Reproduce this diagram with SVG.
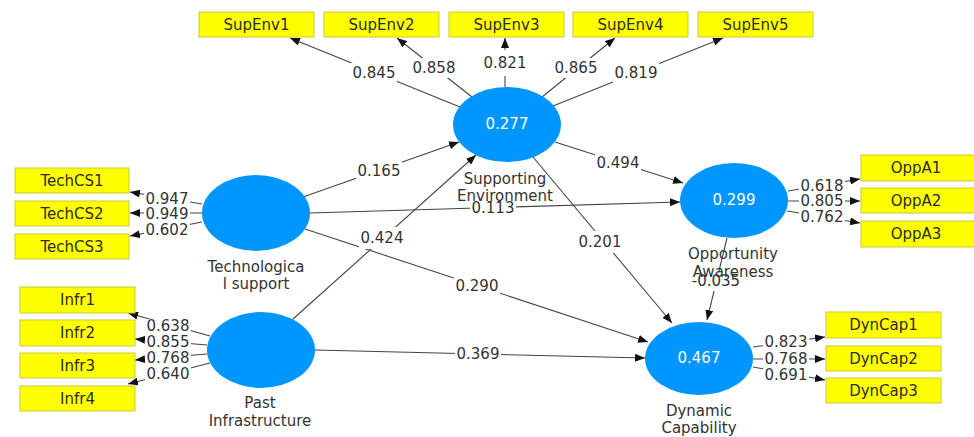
<svg xmlns="http://www.w3.org/2000/svg" width="974" height="437" viewBox="0 0 974 437">
<style>
.bg{fill:#ffffff}
.box{fill:#ffff00;stroke:#c9c93a;stroke-width:1}
.lv{fill:#0096ff}
.bt{font-family:"DejaVu Sans",sans-serif;font-size:15px;fill:#2b2b2b;text-anchor:middle;dominant-baseline:central}
.vt{font-family:"DejaVu Sans",sans-serif;font-size:15px;fill:#ffffff;text-anchor:middle;dominant-baseline:central}
.nl{font-family:"DejaVu Sans",sans-serif;font-size:15px;fill:#333333;text-anchor:middle}
.el{font-family:"DejaVu Sans",sans-serif;font-size:15px;fill:#333333;text-anchor:middle;dominant-baseline:central}
.lb{fill:#ffffff}
.c{stroke:#444444;stroke-width:1.1;fill:none;marker-end:url(#ah)}
</style>
<defs>
<marker id="ah" markerUnits="userSpaceOnUse" viewBox="0 0 10 8" refX="10" refY="4" markerWidth="10" markerHeight="8" orient="auto">
<path d="M0,0 L10,4 L0,8 z" fill="#111111"/>
</marker>
</defs>
<rect class="bg" x="0" y="0" width="974" height="437"/>
<g id="connectors">
<line class="c" x1="460" y1="107" x2="290" y2="38"/>
<line class="c" x1="472" y1="97" x2="397" y2="38"/>
<line class="c" x1="505" y1="87" x2="505" y2="38"/>
<line class="c" x1="542" y1="97" x2="615" y2="38"/>
<line class="c" x1="553" y1="106" x2="723" y2="38"/>
<line class="c" x1="202" y1="204" x2="130" y2="192"/>
<line class="c" x1="202" y1="213" x2="130" y2="213"/>
<line class="c" x1="202" y1="222" x2="130" y2="236"/>
<line class="c" x1="210" y1="336" x2="128" y2="313"/>
<line class="c" x1="207" y1="345" x2="135" y2="339"/>
<line class="c" x1="207" y1="354" x2="135" y2="360"/>
<line class="c" x1="210" y1="363" x2="128" y2="384"/>
<line class="c" x1="788" y1="191" x2="860" y2="179"/>
<line class="c" x1="788" y1="201" x2="860" y2="201"/>
<line class="c" x1="787" y1="211" x2="860" y2="223"/>
<line class="c" x1="753" y1="347" x2="825" y2="337"/>
<line class="c" x1="753" y1="359" x2="825" y2="359"/>
<line class="c" x1="753" y1="367" x2="825" y2="380"/>
<line class="c" x1="303" y1="197" x2="459" y2="142"/>
<line class="c" x1="310" y1="213" x2="680" y2="202"/>
<line class="c" x1="305" y1="229" x2="648" y2="342"/>
<line class="c" x1="293" y1="319" x2="476" y2="155"/>
<line class="c" x1="315" y1="350" x2="645" y2="358"/>
<line class="c" x1="555" y1="142" x2="683" y2="183"/>
<line class="c" x1="533" y1="157" x2="672" y2="323"/>
<line class="c" x1="727" y1="238" x2="707" y2="320"/>
<g id="label-backgrounds">
<rect class="lb" x="351" y="63" width="46" height="20"/>
<rect class="lb" x="411" y="58" width="46" height="20"/>
<rect class="lb" x="482" y="50" width="46" height="26"/>
<rect class="lb" x="553" y="58" width="46" height="20"/>
<rect class="lb" x="613" y="63" width="46" height="20"/>
<rect class="lb" x="144" y="192" width="46" height="14"/>
<rect class="lb" x="144" y="207" width="46" height="14"/>
<rect class="lb" x="144" y="223" width="46" height="14"/>
<rect class="lb" x="145" y="319" width="46" height="14"/>
<rect class="lb" x="145" y="335" width="46" height="14"/>
<rect class="lb" x="145" y="351" width="46" height="14"/>
<rect class="lb" x="145" y="367" width="46" height="14"/>
<rect class="lb" x="799" y="179" width="46" height="14"/>
<rect class="lb" x="799" y="194" width="46" height="14"/>
<rect class="lb" x="799" y="210" width="46" height="14"/>
<rect class="lb" x="763" y="335" width="46" height="14"/>
<rect class="lb" x="763" y="352" width="46" height="14"/>
<rect class="lb" x="763" y="368" width="46" height="14"/>
<rect class="lb" x="356" y="161" width="46" height="20"/>
<rect class="lb" x="470" y="200" width="46" height="16"/>
<rect class="lb" x="454" y="276" width="46" height="20"/>
<rect class="lb" x="359" y="227" width="46" height="22"/>
<rect class="lb" x="455" y="345" width="46" height="18"/>
<rect class="lb" x="595" y="153" width="46" height="20"/>
<rect class="lb" x="577" y="231" width="46" height="22"/>
<rect class="lb" x="688" y="271" width="56" height="20"/>
</g>
<text class="el" x="374" y="73">0.845</text>
<text class="el" x="434" y="68">0.858</text>
<text class="el" x="505" y="63">0.821</text>
<text class="el" x="576" y="68">0.865</text>
<text class="el" x="636" y="73">0.819</text>
<text class="el" x="167" y="199">0.947</text>
<text class="el" x="167" y="214">0.949</text>
<text class="el" x="167" y="230">0.602</text>
<text class="el" x="168" y="326">0.638</text>
<text class="el" x="168" y="342">0.855</text>
<text class="el" x="168" y="358">0.768</text>
<text class="el" x="168" y="374">0.640</text>
<text class="el" x="822" y="186">0.618</text>
<text class="el" x="822" y="201">0.805</text>
<text class="el" x="822" y="217">0.762</text>
<text class="el" x="786" y="342">0.823</text>
<text class="el" x="786" y="359">0.768</text>
<text class="el" x="786" y="375">0.691</text>
<text class="el" x="379" y="171">0.165</text>
<text class="el" x="493" y="208">0.113</text>
<text class="el" x="477" y="286">0.290</text>
<text class="el" x="382" y="238">0.424</text>
<text class="el" x="478" y="354">0.369</text>
<text class="el" x="618" y="163">0.494</text>
<text class="el" x="600" y="242">0.201</text>
<text class="el" x="716" y="281">-0.035</text>
</g>
<g id="SupEnv1"><rect class="box" x="199" y="12" width="115" height="25"/><text class="bt" x="256.5" y="24.5">SupEnv1</text></g>
<g id="SupEnv2"><rect class="box" x="324" y="12" width="115" height="25"/><text class="bt" x="381.5" y="24.5">SupEnv2</text></g>
<g id="SupEnv3"><rect class="box" x="449" y="12" width="115" height="25"/><text class="bt" x="506.5" y="24.5">SupEnv3</text></g>
<g id="SupEnv4"><rect class="box" x="573" y="12" width="115" height="25"/><text class="bt" x="630.5" y="24.5">SupEnv4</text></g>
<g id="SupEnv5"><rect class="box" x="698" y="12" width="115" height="25"/><text class="bt" x="755.5" y="24.5">SupEnv5</text></g>
<g id="TechCS1"><rect class="box" x="15" y="168" width="114" height="25"/><text class="bt" x="72" y="180.5">TechCS1</text></g>
<g id="TechCS2"><rect class="box" x="15" y="201" width="114" height="25"/><text class="bt" x="72" y="213.5">TechCS2</text></g>
<g id="TechCS3"><rect class="box" x="15" y="234" width="114" height="25"/><text class="bt" x="72" y="246.5">TechCS3</text></g>
<g id="Infr1"><rect class="box" x="20" y="287" width="115" height="26"/><text class="bt" x="77.5" y="300">Infr1</text></g>
<g id="Infr2"><rect class="box" x="20" y="320" width="115" height="26"/><text class="bt" x="77.5" y="333">Infr2</text></g>
<g id="Infr3"><rect class="box" x="20" y="353" width="115" height="25"/><text class="bt" x="77.5" y="365.5">Infr3</text></g>
<g id="Infr4"><rect class="box" x="20" y="386" width="115" height="25"/><text class="bt" x="77.5" y="398.5">Infr4</text></g>
<g id="OppA1"><rect class="box" x="861" y="155" width="114" height="26"/><text class="bt" x="916" y="168">OppA1</text></g>
<g id="OppA2"><rect class="box" x="861" y="188" width="114" height="25"/><text class="bt" x="916" y="200.5">OppA2</text></g>
<g id="OppA3"><rect class="box" x="861" y="221" width="114" height="26"/><text class="bt" x="916" y="234">OppA3</text></g>
<g id="DynCap1"><rect class="box" x="826" y="312" width="115" height="26"/><text class="bt" x="883.5" y="325">DynCap1</text></g>
<g id="DynCap2"><rect class="box" x="826" y="346" width="115" height="25"/><text class="bt" x="883.5" y="358.5">DynCap2</text></g>
<g id="DynCap3"><rect class="box" x="826" y="378" width="115" height="25"/><text class="bt" x="883.5" y="390.5">DynCap3</text></g>
<g id="SupportingEnvironment"><ellipse class="lv" cx="507" cy="124.5" rx="54" ry="37.5"/><text class="vt" x="507" y="124">0.277</text><text class="nl" x="505" y="184">Supporting</text><text class="nl" x="505" y="201">Environment</text></g>
<g id="TechnologicalSupport"><ellipse class="lv" cx="256" cy="213" rx="54" ry="38"/><text class="nl" x="256" y="272">Technologica</text><text class="nl" x="256" y="289">l support</text></g>
<g id="PastInfrastructure"><ellipse class="lv" cx="261" cy="350" rx="54" ry="38"/><text class="nl" x="260" y="408">Past</text><text class="nl" x="260" y="426">Infrastructure</text></g>
<g id="OpportunityAwareness"><ellipse class="lv" cx="734" cy="200.5" rx="54" ry="37.5"/><text class="vt" x="734" y="200">0.299</text><text class="nl" x="733" y="259">Opportunity</text><text class="nl" x="733" y="277">Awareness</text></g>
<g id="DynamicCapability"><ellipse class="lv" cx="699" cy="358.5" rx="54" ry="36.5"/><text class="vt" x="699" y="358">0.467</text><text class="nl" x="699" y="416">Dynamic</text><text class="nl" x="699" y="433">Capability</text></g>
</svg>
